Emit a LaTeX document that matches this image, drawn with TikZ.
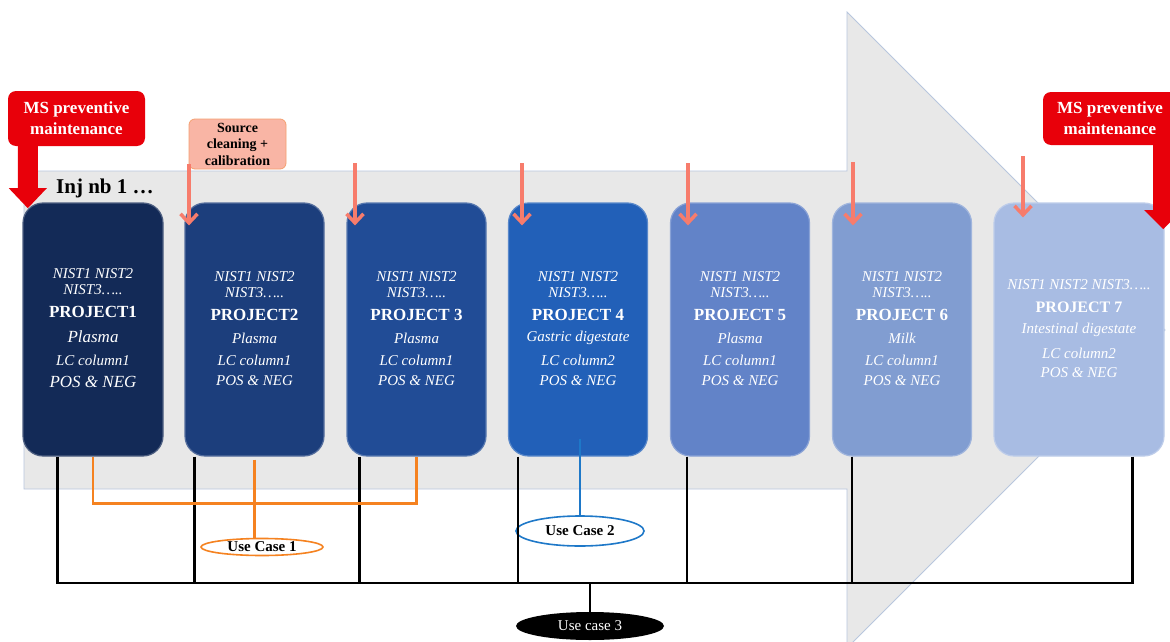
\documentclass[tikz,border=0pt]{standalone}
\usepackage{fontspec}
\setmainfont{Liberation Serif}
\usetikzlibrary{shapes.geometric,arrows.meta,calc}
\definecolor{c1}{HTML}{132A57}
\definecolor{c2}{HTML}{1C3E7C}
\definecolor{c3}{HTML}{214C96}
\definecolor{c4}{HTML}{2260B8}
\definecolor{c5}{HTML}{6283C8}
\definecolor{c6}{HTML}{819DD1}
\definecolor{c7}{HTML}{A8BCE3}
\definecolor{msred}{HTML}{E8000A}
\definecolor{coral}{HTML}{F77C6C}
\definecolor{srcfill}{HTML}{F9B5A5}
\definecolor{srcdraw}{HTML}{F5A070}
\definecolor{arrgray}{HTML}{E8E8E8}
\definecolor{arredge}{HTML}{B8C6DE}
\definecolor{orng}{HTML}{F58220}
\definecolor{blu}{HTML}{1E78C8}
\tikzset{
  pbox/.style={rectangle, rounded corners=20pt, inner sep=0pt, line width=1.2pt, minimum height=253},
  ptx/.style={text=white, inner sep=0pt, anchor=center},
  nist/.style={ptx, font=\fontsize{15}{15}\selectfont\itshape},
  proj/.style={ptx, font=\fontsize{17}{17}\selectfont\bfseries},
  itl/.style={ptx, font=\fontsize{15}{15}\selectfont\itshape},
  itbig/.style={ptx, font=\fontsize{17}{17}\selectfont\itshape},
  msbox/.style={rectangle, rounded corners=8pt, fill=msred, text=white, align=center, inner sep=0pt,
                font=\fontsize{17}{21}\selectfont\bfseries},
  coralarrow/.style={draw=coral, line width=3.5pt, -{Straight Barb[length=9pt,width=17pt]}},
  blk/.style={draw=black, line width=2.6pt},
  orngline/.style={draw=orng, line width=2.6pt},
  bluline/.style={draw=blu, line width=2.4pt},
  uc/.style={ellipse, inner sep=0pt, line width=1.6pt, fill=white, font=\fontsize{15}{15}\selectfont\bfseries}
}
\begin{document}
\begin{tikzpicture}[x=1pt,y=-1pt]
\useasboundingbox (0,0) rectangle (1170,642);
\clip (0,0) rectangle (1170,642);
\fill[white] (0,0) rectangle (1170,642);
% big gray arrow
\filldraw[fill=arrgray, draw=arredge, line width=0.8pt]
  (24,171) -- (847,171) -- (847,12) -- (1165,330) -- (847,648) -- (847,489) -- (24,489) -- cycle;
% project 1
\node[pbox, fill=c1, draw=c1!75!white, minimum width=140] (p1) at (93,329.5) {};
\node[nist]  (p1a) at (93,274) {NIST1 NIST2};
\node[nist]  (p1b) at (93,289.5) {NIST3…..};
\node[proj]  (p1c) at (93,312) {PROJECT1};
\node[itbig] (p1d) at (93,337) {Plasma};
\node[itl]   (p1e) at (93,360) {LC column1};
\node[itbig] (p1f) at (93,382) {POS \& NEG};
% projects 2-6
\foreach \n/\cx/\col/\lab/\smp/\lc in {2/254.5/c2/PROJECT2/Plasma/LC column1,
    3/416.5/c3/PROJECT 3/Plasma/LC column1,
    4/578/c4/PROJECT 4/Gastric digestate/LC column2,
    5/740/c5/PROJECT 5/Plasma/LC column1,
    6/902/c6/PROJECT 6/Milk/LC column1}{
  \node[pbox, fill=\col, draw=\col!75!white, minimum width=139] (p\n) at (\cx,329.5) {};
  \node[nist] (p\n a) at (\cx,277) {NIST1 NIST2};
  \node[nist] (p\n b) at (\cx,292.5) {NIST3…..};
  \node[proj] (p\n c) at (\cx,314.5) {\lab};
  \node[itl]  (p\n d) at (\cx,338) {\smp};
  \node[itl]  (p\n e) at (\cx,360) {\lc};
  \node[itl]  (p\n f) at (\cx,381) {POS \& NEG};
}
% project 7
\node[pbox, fill=c7, draw=c7!75!white, minimum width=170] (p7) at (1079,329.5) {};
\node[nist] (p7a) at (1079,285) {NIST1 NIST2 NIST3…..};
\node[ptx, font=\fontsize{16}{16}\selectfont\bfseries] (p7b) at (1079,307) {PROJECT 7};
\node[itl] (p7c) at (1079,330) {Intestinal digestate};
\node[itl] (p7d) at (1079,353) {LC column2};
\node[itl] (p7e) at (1079,373) {POS \& NEG};
% injection label
\node[anchor=west, inner sep=0pt, font=\fontsize{21}{21}\selectfont\bfseries] (inj) at (56,188) {Inj nb 1 …};
% source cleaning box
\node[rectangle, rounded corners=6pt, fill=srcfill, draw=srcdraw, line width=0.8pt, align=center,
      minimum width=97, minimum height=50, inner sep=0pt, font=\fontsize{14}{16.5}\selectfont\bfseries]
      (src) at (237.5,144) {Source\\cleaning +\\calibration};
% coral arrows
\coordinate (s2) at (189,164);
\coordinate (s3) at (355,163);
\coordinate (s4) at (522,163);
\coordinate (s5) at (688,163);
\coordinate (s6) at (853,162);
\coordinate (s7) at (1023,156);
\draw[coralarrow] (s2) -- ($(s2 |- p2.north)+(0,23)$);
\draw[coralarrow] (s3) -- ($(s3 |- p3.north)+(0,23)$);
\draw[coralarrow] (s4) -- ($(s4 |- p4.north)+(0,23)$);
\draw[coralarrow] (s5) -- ($(s5 |- p5.north)+(0,23)$);
\draw[coralarrow] (s6) -- ($(s6 |- p6.north)+(0,23)$);
\draw[coralarrow] (s7) -- ($(s7 |- p7.north)+(0,15)$);
% use case ellipses
\node[uc, draw=orng, minimum width=122, minimum height=17] (uc1) at (262,547) {Use Case 1};
\node[uc, draw=blu, minimum width=128, minimum height=30] (uc2) at (580,531) {Use Case 2};
\node[ellipse, inner sep=0pt, fill=black, text=white, minimum width=148, minimum height=28,
      font=\fontsize{15}{15}\selectfont] (uc3) at (590,626) {Use case 3};
% black bus
\coordinate (bus) at (590,583);
\draw[blk] ([xshift=35pt]p1.south west) |- (bus);
\draw[blk] ([xshift=10pt]p2.south west) |- (bus);
\draw[blk] ([xshift=13pt]p3.south west) |- (bus);
\draw[blk] ([xshift=10pt]p4.south west) |- (bus);
\draw[blk] ([xshift=17pt]p5.south west) |- (bus);
\draw[blk] ([xshift=20pt]p6.south west) |- (bus);
\draw[blk] ([xshift=-32pt]p7.south east) |- (bus);
\draw[blk] (bus) -- (uc3.north);
% orange use case 1
\draw[orngline] (p1.south) -- ++(0,47) -| (p3.south);
\draw[orngline] ([yshift=-3pt]p2.south) -- (p2.south |- uc1.north);
% blue use case 2
\draw[bluline] ($(uc2.north |- p4.south)+(0,-18)$) -- (uc2.north);
% MS preventive maintenance boxes and red arrows
\node[msbox, minimum width=137, minimum height=55] (ms1) at (76.5,118.5) {MS preventive\\maintenance};
\node[msbox, minimum width=134, minimum height=53] (ms2) at (1110,118.5) {MS preventive\\maintenance};
\fill[msred] ([xshift=10pt]ms1.south west) -- ++(0,42) -- ++(-9,0) -- ++(19,20) -- ++(19,-20) -- ++(-9,0) -- ++(0,-42) -- cycle;
\fill[msred] ([xshift=-24pt]ms2.south east) -- ++(0,65) -- ++(-9,0) -- ++(19,19) -- ++(19,-19) -- ++(-9,0) -- ++(0,-65) -- cycle;
\end{tikzpicture}
\end{document}
